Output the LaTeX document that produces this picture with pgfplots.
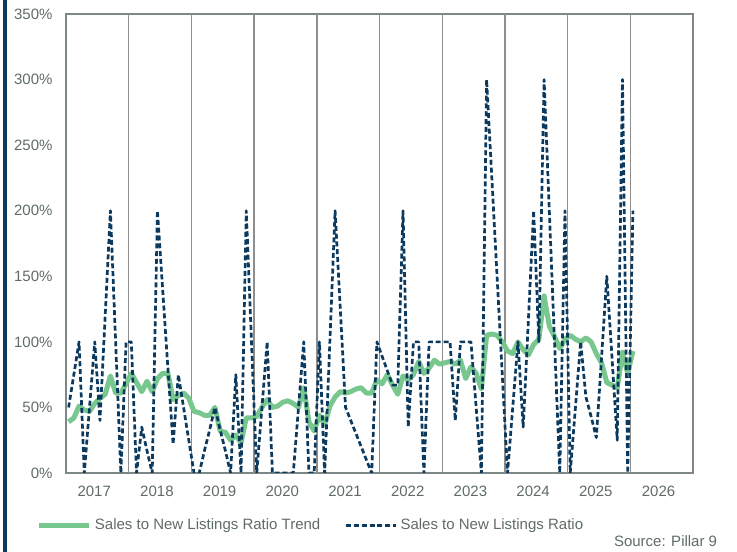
\documentclass[border=0pt]{standalone}
\usepackage{fontspec}
\setmainfont{Liberation Sans}
\usepackage{pgfplots}
\usepackage{pgfplotstable}
\pgfplotsset{compat=1.18}
\definecolor{navy}{HTML}{0B3A5E}
\definecolor{trend}{HTML}{77C78E}
\definecolor{txtgray}{HTML}{5F6B69}
\definecolor{framegray}{HTML}{7D8886}
\definecolor{gridgray}{HTML}{8E8E8E}
\pgfplotstableread{
x y
0.5 39
1.5 42
2.5 51
3.5 48
4.5 47
5.5 53
6.5 57
7.5 60
8.5 74
9.5 61
10.5 61
11.5 68
12.5 76
13.5 69
14.5 62
15.5 70
16.5 62
17.5 72
18.5 76
19.5 76
20.5 56
21.5 59
22.5 61
23.5 57
24.5 47
25.5 46
26.5 44
27.5 44
28.5 50
29.5 32
30.5 31
31.5 25
32.5 29
33.5 23
34.5 42
35.5 42
36.5 43
37.5 50
38.5 56
39.5 50
40.5 51
41.5 54
42.5 55
43.5 53
44.5 50
45.5 65
46.5 39
47.5 32
48.5 44
49.5 37
50.5 51
51.5 58
52.5 62
53.5 61
54.5 62
55.5 64
56.5 65
57.5 61
58.5 61
59.5 71
60.5 68
61.5 75
62.5 67
63.5 60
64.5 74
65.5 71
66.5 75
67.5 85
68.5 76
69.5 80
70.5 86
71.5 83
72.5 84
73.5 85
74.5 83
75.5 86
76.5 72
77.5 81
78.5 76
79.5 64
80.5 105
81.5 106
82.5 105
83.5 100
84.5 93
85.5 91
86.5 100
87.5 94
88.5 90
89.5 98
90.5 102
91.5 135
92.5 112
93.5 104
94.5 95
95.5 102
96.5 105
97.5 102
98.5 100
99.5 103
100.5 100
101.5 91
102.5 84
103.5 69
104.5 67
105.5 65
106.5 92
107.5 76
108.5 93
}\trendtable
\pgfplotstableread{
x y
0.5 50
1.5 75
2.5 100
3.5 0
4.5 50
5.5 100
6.5 40
7.5 120
8.5 200
9.5 100
10.5 0
11.5 100
12.5 100
13.5 0
14.5 35
15.5 17
16.5 0
17.5 200
18.5 140
19.5 80
20.5 22
21.5 75
22.5 50
23.5 25
24.5 0
25.5 0
26.5 17
27.5 33
28.5 50
29.5 33
30.5 17
31.5 0
32.5 75
33.5 0
34.5 200
35.5 100
36.5 0
37.5 50
38.5 100
39.5 0
40.5 0
41.5 0
42.5 0
43.5 0
44.5 50
45.5 100
46.5 0
47.5 0
48.5 100
49.5 0
50.5 100
51.5 200
52.5 125
53.5 50
54.5 40
55.5 30
56.5 20
57.5 10
58.5 0
59.5 100
60.5 89
61.5 78
62.5 67
63.5 67
64.5 200
65.5 35
66.5 100
67.5 100
68.5 0
69.5 100
70.5 100
71.5 100
72.5 100
73.5 100
74.5 40
75.5 100
76.5 100
77.5 100
78.5 50
79.5 0
80.5 300
81.5 225
82.5 150
83.5 75
84.5 0
85.5 50
86.5 100
87.5 35
88.5 117
89.5 200
90.5 100
91.5 300
92.5 200
93.5 100
94.5 0
95.5 200
96.5 0
97.5 50
98.5 100
99.5 58
100.5 43
101.5 27
102.5 88
103.5 150
104.5 88
105.5 25
106.5 300
107.5 0
108.5 200
}\ratiotable
\begin{document}
\fontsize{15bp}{18bp}\selectfont
\begin{tikzpicture}
\useasboundingbox (0,0) rectangle (737bp,552bp);
\fill[navy] (2.7bp,0) rectangle (7.3bp,552bp);
\begin{axis}[
  at={(66bp,79bp)}, anchor=south west,
  scale only axis, width=627bp, height=459bp,
  xmin=0, xmax=120, ymin=0, ymax=350,
  axis line style={framegray, line width=1.5bp},
  major tick length=0pt,
  ytick={0,50,100,150,200,250,300,350},
  yticklabels={0\%,50\%,100\%,150\%,200\%,250\%,300\%,350\%},
  xtick={5.4,17.4,29.4,41.4,53.4,65.4,77.4,89.4,101.4,113.4},
  xticklabels={2017,2018,2019,2020,2021,2022,2023,2024,2025,2026},
  extra x ticks={12,24,36,48,60,72,84,96,108},
  extra x tick labels={},
  extra x tick style={grid=major, major grid style={gridgray, line width=1.4bp}},
  tick label style={text=txtgray, font=\fontsize{15bp}{18bp}\selectfont},
  yticklabel style={inner sep=0pt, anchor=east, xshift=-13.3bp},
  xticklabel style={inner sep=0pt, anchor=north, yshift=-12.7bp},
  /pgf/number format/assume math mode=true,
  legend columns=2,
  legend cell align=left,
  legend image code/.code={\draw[#1] (0bp,0bp) -- (50bp,0bp);},
  legend style={at={(-0.0463,-0.1145)}, anchor=west, draw=none, fill=none,
    inner sep=0pt, outer sep=0pt, text=txtgray, font=\fontsize{15bp}{18bp}\selectfont,
    column sep=3bp, /tikz/every even column/.append style={column sep=24.5bp},
    nodes={inner sep=0pt}},
]
\addplot[trend, line width=5bp, line join=round] table[x=x,y=y] {\trendtable};
\addlegendentry{Sales to New Listings Ratio Trend}
\addplot[navy, line width=2.7bp, dash pattern=on 5bp off 2.8bp, line join=round] table[x=x,y=y] {\ratiotable};
\addlegendentry{Sales to New Listings Ratio}
\end{axis}
\node[anchor=base east, inner sep=0pt, text=txtgray] at (717.3bp,6bp) {Source: Pillar 9};
\end{tikzpicture}
\end{document}
